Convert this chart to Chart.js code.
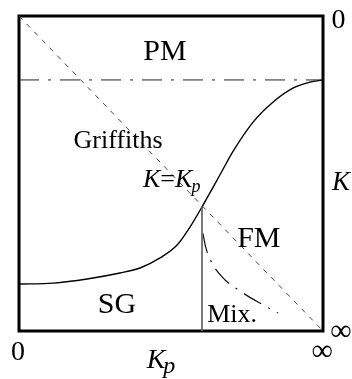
<!DOCTYPE html>
<html>
<head>
<meta charset="utf-8">
<script src="https://cdn.jsdelivr.net/npm/chart.js@4.4.1/dist/chart.umd.min.js"></script>
<style>
  html, body { margin: 0; padding: 0; background: #fff; }
  #wrap { width: 352px; height: 379px; position: relative; }
</style>
</head>
<body>
<div id="wrap"><canvas id="c" width="352" height="379"></canvas></div>
<script>
// ---- data (x = Kp fraction 0..1 (0..∞), y = K fraction 0..1 from top (0..∞)) ----
const boundaryKp = [0.000, 0.112, 0.224, 0.332, 0.398, 0.464, 0.520, 0.5625, 0.602, 0.640, 0.672, 0.704, 0.770, 0.836, 0.901, 0.957, 1.000];
const boundaryK  = [0.851, 0.848, 0.835, 0.816, 0.800, 0.768, 0.727, 0.670, 0.606, 0.541, 0.485, 0.430, 0.337, 0.273, 0.229, 0.210, 0.203];
const mixKp = [0.605, 0.615, 0.638, 0.678, 0.727, 0.786, 0.852];
const mixK  = [0.690, 0.737, 0.790, 0.838, 0.873, 0.908, 0.943];
const pmLineKp = [0, 1];
const pmLineK  = [0.203, 0.203];
const diagKp = [0, 1];
const diagK  = [0, 1];
const vertKp = [0.602, 0.602];
const vertK  = [0.606, 1];
const regionLabels = ['PM', 'Griffiths', 'FM', 'SG', 'Mix.'];
const xTickLabels = ['0', '∞'];
const yTickLabels = ['0', '∞'];
const xAxisTitle = ['K', 'p'];
const yAxisTitle = 'K';
const diagLabel = ['K', '=', 'K', 'p'];

// ---- layout / style (not data) ----
const labelPos = [[0.48, 0.140], [0.326, 0.419], [0.789, 0.733], [0.322, 0.943], [0.701, 0.971]];
const labelSize = [30, 26, 30, 30, 26];

function pts(xs, ys) { return xs.map((x, i) => ({ x: x, y: ys[i] })); }

const SERIF = '"Liberation Serif", "Times New Roman", serif';

const overlay = {
  id: 'overlay',
  beforeDatasetsDraw(chart) {
    const ctx = chart.ctx, a = chart.chartArea;
    ctx.save();
    ctx.strokeStyle = '#000';
    ctx.lineWidth = 3;
    ctx.strokeRect(a.left, a.top, a.right - a.left, a.bottom - a.top);
    ctx.restore();
  },
  afterDraw(chart) {
    const ctx = chart.ctx;
    const xs = chart.scales.x, ys = chart.scales.y;
    const px = v => xs.getPixelForValue(v), py = v => ys.getPixelForValue(v);
    ctx.save();
    ctx.fillStyle = '#000';
    ctx.textBaseline = 'alphabetic';
    ctx.textAlign = 'center';
    regionLabels.forEach((t, i) => {
      ctx.font = labelSize[i] + 'px ' + SERIF;
      ctx.fillText(t, px(labelPos[i][0]), py(labelPos[i][1]));
    });
    // K = Kp label
    let x0 = px(0.408), yb = py(0.543);
    ctx.textAlign = 'left';
    ctx.font = 'italic 26px ' + SERIF;
    ctx.fillText(diagLabel[0], x0, yb); x0 += ctx.measureText(diagLabel[0]).width;
    ctx.font = '26px ' + SERIF;
    ctx.fillText(diagLabel[1], x0, yb); x0 += ctx.measureText(diagLabel[1]).width;
    ctx.font = 'italic 26px ' + SERIF;
    ctx.fillText(diagLabel[2], x0, yb); x0 += ctx.measureText(diagLabel[2]).width - 1;
    ctx.font = 'italic 18px ' + SERIF;
    ctx.fillText(diagLabel[3], x0, yb + 5);

    // bottom ticks
    ctx.textAlign = 'center';
    ctx.font = '28px ' + SERIF;
    ctx.fillText(xTickLabels[0], px(-0.003), py(1.092));
    ctx.font = '30px ' + SERIF;
    ctx.fillText(xTickLabels[1], px(0.997), py(1.092));
    // right ticks
    ctx.font = '28px ' + SERIF;
    ctx.fillText(yTickLabels[0], px(1.051), py(0.038));
    ctx.font = '30px ' + SERIF;
    ctx.fillText(yTickLabels[1], px(1.059), py(1.030));
    // axis titles
    ctx.font = 'italic 27px ' + SERIF;
    ctx.fillText(yAxisTitle, px(1.059), py(0.552));
    ctx.textAlign = 'left';
    let bx = px(0.42), by = py(1.117);
    ctx.font = 'italic 28px ' + SERIF;
    ctx.fillText(xAxisTitle[0], bx, by); bx += ctx.measureText(xAxisTitle[0]).width - 2;
    ctx.font = 'italic 24px ' + SERIF;
    ctx.fillText(xAxisTitle[1], bx, by + 5);
    ctx.restore();
  }
};

new Chart(document.getElementById('c'), {
  type: 'scatter',
  data: {
    datasets: [
      { data: pts(diagKp, diagK), showLine: true, borderColor: '#444', borderWidth: 1, borderDash: [5, 6], pointRadius: 0 },
      { data: pts(pmLineKp, pmLineK), showLine: true, borderColor: '#222', borderWidth: 1, borderDash: [20, 9, 3, 9], pointRadius: 0 },
      { data: pts(vertKp, vertK), showLine: true, borderColor: '#666', borderWidth: 1, pointRadius: 0 },
      { data: pts(mixKp, mixK), showLine: true, borderColor: '#111', borderWidth: 1.2, borderDash: [20, 8, 2, 8], cubicInterpolationMode: 'monotone', pointRadius: 0 },
      { data: pts(boundaryKp, boundaryK), showLine: true, borderColor: '#000', borderWidth: 1.4, cubicInterpolationMode: 'monotone', pointRadius: 0 }
    ]
  },
  options: {
    responsive: false,
    animation: false,
    devicePixelRatio: 1,
    layout: { padding: { left: 19, right: 29, top: 16, bottom: 48 } },
    plugins: { legend: { display: false }, tooltip: { enabled: false } },
    scales: {
      x: { type: 'linear', min: 0, max: 1, display: false },
      y: { type: 'linear', min: 0, max: 1, reverse: true, display: false }
    }
  },
  plugins: [overlay]
});
</script>
</body>
</html>
